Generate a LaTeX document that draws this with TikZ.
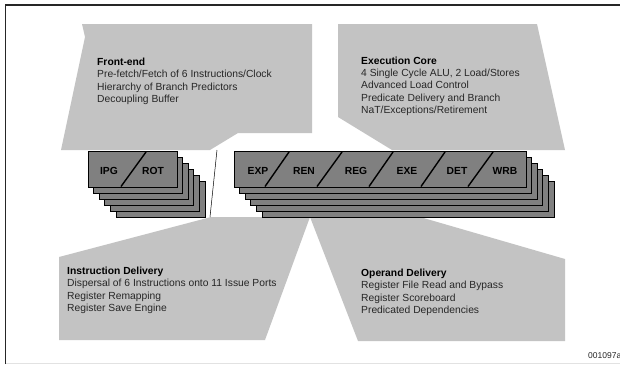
\documentclass[tikz,border=0pt]{standalone}
\usepackage{fontspec}
\setmainfont{Liberation Sans}
\definecolor{polyg}{HTML}{C3C3C3}
\definecolor{boxg}{HTML}{808080}
\definecolor{framec}{HTML}{262626}
\definecolor{textg}{HTML}{262626}
\definecolor{faint}{HTML}{E2E2E2}
\begin{document}
\begin{tikzpicture}[x=1pt,y=-1pt,
  panel/.style={fill=polyg,draw=none},
  stage/.style={fill=boxg,draw=black,line width=0.8pt},
  slash/.style={draw=black,line width=1.4pt},
  lbl/.style={font=\fontsize{10.3}{12}\selectfont\bfseries,inner sep=0pt,anchor=base},
  info/.style={font=\fontsize{10.3}{12.3}\selectfont,align=left,inner sep=0pt,anchor=north west,text=textg},
  ttl/.style={font=\bfseries,text=black},
  link/.style={draw=black,line width=0.5pt}]
\useasboundingbox (0,0) rectangle (620,368);
% frame
\draw[framec,line width=1.5pt] (5.5,364) -- (5.5,4.8) -- (620,4.8);
\draw[faint,line width=0.8pt] (6,363.5) -- (620,363.5);
% panels
\path[panel] (82,24) -- (312,24) -- (312,133) -- (238,133) -- (210,150) -- (61,150) -- (85,37) -- cycle;
\path[panel] (338,24) -- (537,24) -- (565,150) -- (392,150) -- (338,117) -- cycle;
\path[panel] (59,257) -- (211,217) -- (310,217) -- (265,340) -- (59,340) -- cycle;
\path[panel] (310,217) -- (420,217) -- (565,259) -- (565,341) -- (358,341) -- cycle;
% connector between front-end and instruction delivery
\coordinate (fetip) at (217,150);
\coordinate (idtip) at (210,217);
\draw[link] (fetip) -- (idtip);
% stacks
\foreach \i in {5,4,3,2,1} {
  \draw[stage] ({88+\i*5.6},{151+\i*6}) rectangle ++(89,36);
  \draw[stage] ({234+\i*5.6},{151+\i*6}) rectangle ++(292,36);
}
\draw[stage] (88,151) rectangle (177,187);
\draw[stage] (234,151) rectangle (526,187);
\draw[slash] (146,152) -- (121,186.5);
\foreach \a/\b in {289/265,342/317,393/369,445/421,493/468} {
  \draw[slash] (\a,152) -- (\b,186.5);
}
% stage labels
\node[lbl] (ipg) at (109,174.3) {IPG};
\node[lbl] (rot) at (153,174.3) {ROT};
\node[lbl] (exp) at (258,174.3) {EXP};
\node[lbl] (ren) at (304,174.3) {REN};
\node[lbl] (reg) at (356,174.3) {REG};
\node[lbl] (exe) at (407,174.3) {EXE};
\node[lbl] (det) at (457,174.3) {DET};
\node[lbl] (wrb) at (505,174.3) {WRB};
% texts
\node[info] (fe) at (97,58) {{\bfseries\color{black}Front-end}\\Pre-fetch/Fetch of 6 Instructions/Clock\\Hierarchy of Branch Predictors\\Decoupling Buffer};
\node[info] (ec) at (361,56.5) {{\bfseries\color{black}Execution Core}\\4 Single Cycle ALU, 2 Load/Stores\\Advanced Load Control\\Predicate Delivery and Branch\\NaT/Exceptions/Retirement};
\node[info] (id) at (67,267) {{\bfseries\color{black}Instruction Delivery}\\Dispersal of 6 Instructions onto 11 Issue Ports\\Register Remapping\\Register Save Engine};
\node[info] (od) at (361,268.8) {{\bfseries\color{black}Operand Delivery}\\Register File Read and Bypass\\Register Scoreboard\\Predicated Dependencies};
\node[font=\fontsize{8.5}{10}\selectfont,inner sep=0pt,anchor=base west,text=textg] (code) at (588,358) {001097a};
\end{tikzpicture}
\end{document}
